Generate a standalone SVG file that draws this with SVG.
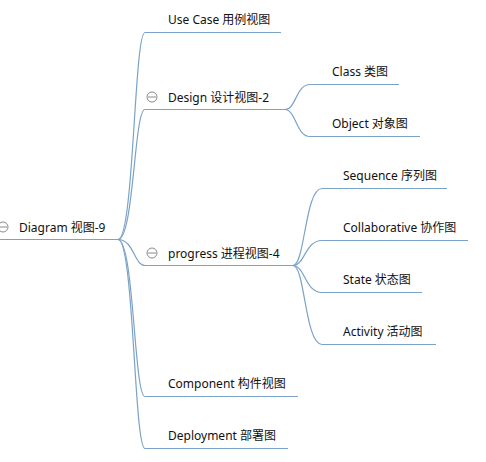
<svg xmlns="http://www.w3.org/2000/svg" width="486" height="462" viewBox="0 0 486 462">
<style>
.ln{fill:none;stroke:#7ba3c7;stroke-width:1.2}
.t{font-family:"Noto Sans","Noto Sans CJK SC",sans-serif;font-size:12px;fill:#111}
.c{fill:#fff;stroke:#8a8a8a;stroke-width:1}
.cm{stroke:#8a8a8a;stroke-width:1}
</style>
<rect width="486" height="462" fill="#fff"/>
<g id="connectors">
<path class="ln" d="M118,239.5 C134,239.5 134,32.5 145,32.5"/>
<path class="ln" d="M118,239.5 C134,239.5 134,109.5 145,109.5"/>
<path class="ln" d="M118,239.5 C134,239.5 134,265.5 145,265.5"/>
<path class="ln" d="M118,239.5 C134,239.5 134,396.5 145,396.5"/>
<path class="ln" d="M118,239.5 C134,239.5 134,448.5 145,448.5"/>
<path class="ln" d="M285,109.5 C296,109.5 296,84.5 310,84.5"/>
<path class="ln" d="M285,109.5 C296,109.5 296,136.5 310,136.5"/>
<path class="ln" d="M293,265.5 C305,265.5 305,188.5 322,188.5"/>
<path class="ln" d="M293,265.5 C305,265.5 305,240.5 322,240.5"/>
<path class="ln" d="M293,265.5 C305,265.5 305,292.5 322,292.5"/>
<path class="ln" d="M293,265.5 C305,265.5 305,344.5 322,344.5"/>
</g>
<g id="root">
<line class="ln" x1="0" y1="239.5" x2="118" y2="239.5"/>
<circle class="c" cx="3" cy="227" r="5"/><line class="cm" x1="-1" y1="227" x2="7" y2="227"/>
<text class="t" x="19" y="232">Diagram 视图-9</text>
</g>
<g id="usecase">
<line class="ln" x1="145" y1="32.5" x2="281" y2="32.5"/>
<text class="t" x="168" y="24">Use Case 用例视图</text>
</g>
<g id="design">
<line class="ln" x1="145" y1="109.5" x2="285" y2="109.5"/>
<circle class="c" cx="152" cy="97" r="5"/><line class="cm" x1="148" y1="97" x2="156" y2="97"/>
<text class="t" x="168" y="102">Design 设计视图-2</text>
</g>
<g id="class">
<line class="ln" x1="310" y1="84.5" x2="399" y2="84.5"/>
<text class="t" x="332" y="76">Class 类图</text>
</g>
<g id="object">
<line class="ln" x1="310" y1="136.5" x2="420" y2="136.5"/>
<text class="t" x="332" y="128">Object 对象图</text>
</g>
<g id="progress">
<line class="ln" x1="145" y1="265.5" x2="293" y2="265.5"/>
<circle class="c" cx="152" cy="253" r="5"/><line class="cm" x1="148" y1="253" x2="156" y2="253"/>
<text class="t" x="168" y="258">progress 进程视图-4</text>
</g>
<g id="sequence">
<line class="ln" x1="322" y1="188.5" x2="447" y2="188.5"/>
<text class="t" x="343" y="180">Sequence 序列图</text>
</g>
<g id="collaborative">
<line class="ln" x1="322" y1="240.5" x2="468" y2="240.5"/>
<text class="t" x="343" y="232">Collaborative 协作图</text>
</g>
<g id="state">
<line class="ln" x1="322" y1="292.5" x2="422" y2="292.5"/>
<text class="t" x="343" y="284">State 状态图</text>
</g>
<g id="activity">
<line class="ln" x1="322" y1="344.5" x2="436" y2="344.5"/>
<text class="t" x="343" y="336">Activity 活动图</text>
</g>
<g id="component">
<line class="ln" x1="145" y1="396.5" x2="298" y2="396.5"/>
<text class="t" x="168" y="388">Component 构件视图</text>
</g>
<g id="deployment">
<line class="ln" x1="145" y1="448.5" x2="288" y2="448.5"/>
<text class="t" x="168" y="440">Deployment 部署图</text>
</g>
</svg>
